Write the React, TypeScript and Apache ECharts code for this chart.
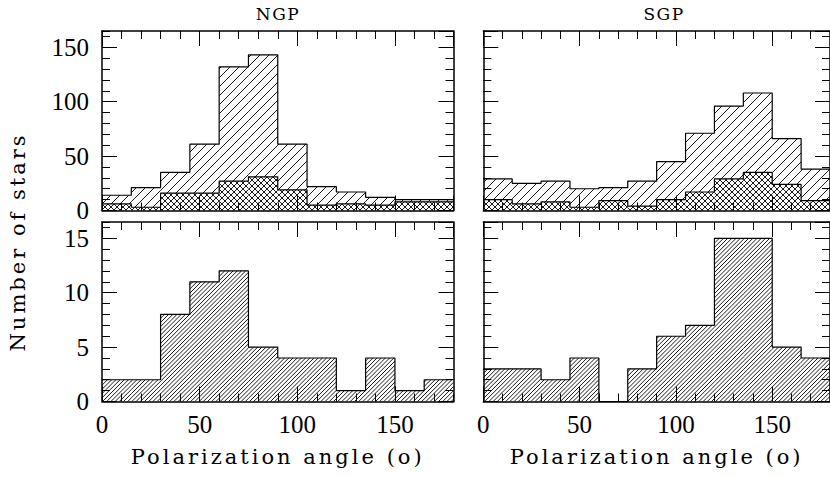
import React, { useEffect, useRef } from 'react';
import * as echarts from 'echarts';

// ---- data (15 degree bins) ----
const binEdges = [0, 15, 30, 45, 60, 75, 90, 105, 120, 135, 150, 165, 180];
const ngpAll = [14, 21, 35, 61, 132, 143, 61, 22, 17, 12, 10, 10];
const ngpSub = [6, 3, 16, 16, 27, 31, 19, 5, 6, 5, 8, 8];
const sgpAll = [29, 25, 27, 20, 21, 27, 45, 71, 96, 108, 66, 38];
const sgpSub = [10, 6, 8, 3, 9, 4, 10, 17, 29, 35, 24, 9];
const ngpLower = [2, 2, 8, 11, 12, 5, 4, 4, 1, 4, 1, 2];
const sgpLower = [3, 3, 2, 4, 0, 3, 6, 7, 15, 15, 5, 4];
const xTickLabels = [0, 50, 100, 150];
const yTickLabelsTop = [0, 50, 100, 150];
const yTickLabelsBottom = [0, 5, 10, 15];
const panelTitles = ['NGP', 'SGP'];
const xTitle = 'Polarization angle (o)';
const yTitle = 'Number of stars';

const TITLE_FONT = "'DejaVu Serif', serif";
const SERIF = "'Liberation Serif', 'DejaVu Serif', serif";

const GRIDS = [
  { left: 102, top: 31, width: 351.5, height: 179.5 },
  { left: 483.3, top: 31, width: 351.5, height: 179.5 },
  { left: 102, top: 222, width: 351.5, height: 179.5 },
  { left: 483.3, top: 222, width: 351.5, height: 179.5 },
];

type Hist = { values: number[]; kind: 'single' | 'cross'; spacing: number };
type Panel = {
  ymax: number;
  minor: number;
  major: number;
  yLabels: number[] | null;
  xLabels: boolean;
  hists: Hist[];
};

const PANELS: Panel[] = [
  { ymax: 165, minor: 10, major: 50, yLabels: yTickLabelsTop, xLabels: false,
    hists: [{ values: ngpAll, kind: 'single', spacing: 9 }, { values: ngpSub, kind: 'cross', spacing: 6 }] },
  { ymax: 165, minor: 10, major: 50, yLabels: null, xLabels: false,
    hists: [{ values: sgpAll, kind: 'single', spacing: 9 }, { values: sgpSub, kind: 'cross', spacing: 6 }] },
  { ymax: 16.5, minor: 1, major: 5, yLabels: yTickLabelsBottom, xLabels: true,
    hists: [{ values: ngpLower, kind: 'single', spacing: 4.2 }] },
  { ymax: 16.5, minor: 1, major: 5, yLabels: null, xLabels: true,
    hists: [{ values: sgpLower, kind: 'single', spacing: 4.2 }] },
];

function makeRenderItem(kind: 'single' | 'cross', s: number) {
  return (params: any, api: any) => {
    const x0 = api.value(0);
    const x1 = api.value(1);
    const v = api.value(2);
    const pTop = api.coord([x0, v]);
    const pBot = api.coord([x1, 0]);
    const xa = pTop[0], yt = pTop[1], xb = pBot[0], yb = pBot[1];
    const children: any[] = [];
    if (yb - yt < 0.5) return { type: 'group', children };
    const ls = { stroke: '#000', lineWidth: 0.9 };
    if (kind === 'cross') {
      children.push({ type: 'rect', shape: { x: xa, y: yt, width: xb - xa, height: yb - yt }, style: { fill: '#fff' } });
    }
    // "/" lines: x + y = c
    for (let c = Math.ceil((xa + yt) / s) * s; c <= xb + yb; c += s) {
      const ax = Math.max(xa, c - yb);
      const bx = Math.min(xb, c - yt);
      if (bx - ax > 0.2) children.push({ type: 'line', shape: { x1: ax, y1: c - ax, x2: bx, y2: c - bx }, style: ls });
    }
    if (kind === 'cross') {
      // "\" lines: y - x = c
      for (let c = Math.ceil((yt - xb) / s) * s; c <= yb - xa; c += s) {
        const ax = Math.max(xa, yt - c);
        const bx = Math.min(xb, yb - c);
        if (bx - ax > 0.2) children.push({ type: 'line', shape: { x1: ax, y1: ax + c, x2: bx, y2: bx + c }, style: ls });
      }
    }
    return { type: 'group', children };
  };
}

function buildOption() {
  const xAxis: any[] = [];
  const yAxis: any[] = [];
  const series: any[] = [];
  PANELS.forEach((p, g) => {
    const xDefs = [
      { pos: 'bottom', interval: 10, len: 8, line: true, label: false },
      { pos: 'bottom', interval: 50, len: 15, line: false, label: p.xLabels },
      { pos: 'top', interval: 10, len: 8, line: true, label: false },
      { pos: 'top', interval: 50, len: 15, line: false, label: false },
    ];
    xDefs.forEach((d, k) => {
      xAxis.push({
        type: 'value', gridIndex: g, position: d.pos, min: 0, max: 180, interval: d.interval, z: 10,
        axisLine: { show: d.line, onZero: false, lineStyle: { color: '#000', width: 1.5 } },
        axisTick: { show: true, inside: true, length: d.len, lineStyle: { color: '#000', width: 1 } },
        splitLine: { show: false },
        axisLabel: {
          show: d.label, margin: 10, color: '#000', fontFamily: SERIF, fontSize: 25, showMaxLabel: false,
          formatter: (val: number) => (xTickLabels.includes(val) ? String(val) : ''),
        },
        ...(k === 1 && p.xLabels
          ? { name: xTitle, nameLocation: 'middle', nameGap: 45, nameTextStyle: { fontFamily: TITLE_FONT, fontSize: 21, color: '#000' } }
          : {}),
      });
    });
    const yDefs = [
      { pos: 'left', interval: p.minor, len: 8, line: true, label: false },
      { pos: 'left', interval: p.major, len: 15, line: false, label: !!p.yLabels },
      { pos: 'right', interval: p.minor, len: 8, line: true, label: false },
      { pos: 'right', interval: p.major, len: 15, line: false, label: false },
    ];
    yDefs.forEach((d) => {
      const labs = p.yLabels || [];
      yAxis.push({
        type: 'value', gridIndex: g, position: d.pos, min: 0, max: p.ymax, interval: d.interval, z: 10,
        axisLine: { show: d.line, onZero: false, lineStyle: { color: '#000', width: 1.5 } },
        axisTick: { show: true, inside: true, length: d.len, lineStyle: { color: '#000', width: 1 } },
        splitLine: { show: false },
        axisLabel: {
          show: d.label, margin: 13, color: '#000', fontFamily: SERIF, fontSize: 25, showMaxLabel: false,
          formatter: (val: number) => (labs.includes(val) ? String(val) : ''),
        },
      });
    });
    p.hists.forEach((h, hi) => {
      const xi = g * 4;
      const yi = g * 4;
      series.push({
        type: 'custom', xAxisIndex: xi, yAxisIndex: yi, silent: true, z: 2 + hi * 2,
        data: h.values.map((v, i) => [binEdges[i], binEdges[i + 1], v]),
        encode: { x: [0, 1], y: 2 },
        renderItem: makeRenderItem(h.kind, h.spacing),
      });
      series.push({
        type: 'line', xAxisIndex: xi, yAxisIndex: yi, silent: true, z: 3 + hi * 2,
        step: 'end', showSymbol: false, symbol: 'none',
        lineStyle: { color: '#000', width: 1.2 },
        data: binEdges.map((e, i) => [e, h.values[Math.min(i, h.values.length - 1)]]),
      });
    });
  });

  const graphic: any[] = [
    {
      type: 'text', x: 18, y: 242, rotation: Math.PI / 2, z: 20,
      style: { text: yTitle, fontFamily: TITLE_FONT, fontSize: 21, fill: '#000', align: 'center', verticalAlign: 'middle', textAlign: 'center', textVerticalAlign: 'middle' },
    },
    {
      type: 'text', x: 278, y: 14, z: 20,
      style: { text: panelTitles[0], fontFamily: TITLE_FONT, fontSize: 17, fill: '#000', align: 'center', verticalAlign: 'middle', textAlign: 'center', textVerticalAlign: 'middle' },
    },
    {
      type: 'text', x: 664, y: 14, z: 20,
      style: { text: panelTitles[1], fontFamily: TITLE_FONT, fontSize: 17, fill: '#000', align: 'center', verticalAlign: 'middle', textAlign: 'center', textVerticalAlign: 'middle' },
    },
  ];

  return {
    animation: false,
    backgroundColor: '#fff',
    grid: GRIDS.map((gr) => ({ ...gr, containLabel: false })),
    xAxis,
    yAxis,
    series,
    graphic,
  };
}

// widen the spacing of the title letters (the original uses a wide-set plotting font)
function spreadTitles(root: HTMLElement | null) {
  if (!root) return;
  root.querySelectorAll('text').forEach((t) => {
    const s = t.textContent || '';
    if (s === xTitle || s === yTitle) t.setAttribute('letter-spacing', '3');
    else if (panelTitles.includes(s)) t.setAttribute('letter-spacing', '1.5');
  });
}

export default function App() {
  const ref = useRef<HTMLDivElement>(null);
  useEffect(() => {
    if (!ref.current) return;
    const chart = echarts.init(ref.current, undefined, { renderer: 'svg' });
    chart.setOption(buildOption() as any);
    spreadTitles(ref.current);
    const onFinished = () => spreadTitles(ref.current);
    chart.on('finished', onFinished);
    return () => {
      chart.off('finished', onFinished);
      chart.dispose();
    };
  }, []);
  return <div ref={ref} style={{ position: 'fixed', left: 0, top: 0, width: 830, height: 477, background: '#fff' }} />;
}
